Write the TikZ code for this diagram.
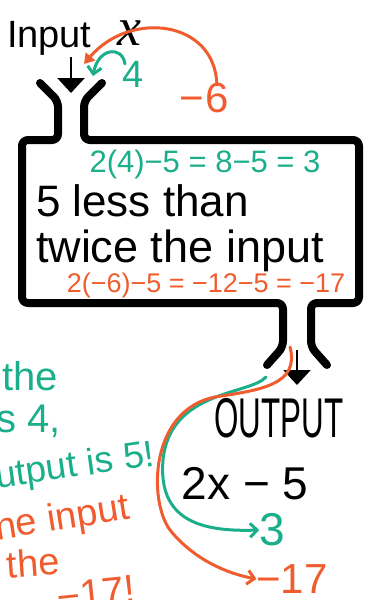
\documentclass[tikz,border=0pt]{standalone}
\usepackage{fontspec}
\setmainfont{Liberation Sans}
\newfontfamily\varfont{Liberation Serif}
\usetikzlibrary{arrows.meta, positioning, calc}
\definecolor{MarkTeal}{RGB}{27, 174, 138}
\definecolor{MarkOrange}{RGB}{240, 92, 46}
\newcommand{\fsz}[1]{\fontsize{#1}{#1}\selectfont}

\begin{document}
\begin{tikzpicture}[
  x=1pt, y=-1pt,
  every node/.style={inner sep=0pt, outer sep=0pt},
  blackink/.style={text=black},
  tealink/.style={text=MarkTeal},
  orangeink/.style={text=MarkOrange},
  machine/.style={draw=black, line width=8pt, rounded corners=6pt,
                  line cap=round, line join=round},
  feedarr/.style={-{Triangle[length=15pt, width=27pt]}, line width=2.5pt, draw=black},
  tealarr/.style={-{Straight Barb[length=7pt, width=14pt]}, line width=3pt,
                  draw=MarkTeal, line cap=round},
  orangearr/.style={-{Straight Barb[length=7pt, width=14pt]}, line width=3pt,
                    draw=MarkOrange, line cap=round}
]
  \useasboundingbox (0,0) rectangle (367,600);
  \clip (0,0) rectangle (367,600);

  %% Function machine
  \draw[machine] (40,83) -- (58,101) -- (58,140) -- (22,140) -- (22,303)
                 -- (283,303) -- (283,347) -- (267,365);
  \draw[machine] (102,83) -- (84,101) -- (84,140) -- (359,140) -- (359,303)
                 -- (311,303) -- (311,347) -- (327,365);

  %% Ports
  \coordinate (infeed)  at (71,57);
  \coordinate (inmouth) at (71,93);
  \coordinate (outfeed) at (297,350);
  \coordinate (outmouth) at (297,385);
  \coordinate (inport)  at (84,64);
  \coordinate (intip)   at (93,76);

  \draw[feedarr] (infeed) -- (inmouth);
  \draw[feedarr] (outfeed) -- (outmouth);

  %% Input side
  \node[blackink, anchor=base west, font=\fsz{38}] (inlbl) at (7,47) {Input};
  \node[blackink, anchor=base west, font=\fsz{54}\varfont\itshape] (invar) at (117,45) {x};
  \node[tealink, anchor=base west, font=\fsz{38}] (infour) at (122,87) {4};
  \node[orangeink, anchor=base west, font=\fsz{42}] (insix) at (179,112) {−\hspace{2pt}6};

  %% Rule inside the machine
  \node[tealink, font=\fsz{31}] (eqfour) at (205,164) {2(4)−5 = 8−5 = 3};
  \node[blackink, anchor=base west, font=\fsz{44}] (ruleone) at (36,216) {5 less than};
  \node[blackink, anchor=base west, font=\fsz{45}] (ruletwo) at (36,262) {twice the input};
  \node[orangeink, font=\fsz{27}] (eqsix) at (206,286) {2(−6)−5 = −12−5 = −17};

  %% Output side
  \node[blackink, font=\fsz{56}] (outlbl) at (279,418) {\scalebox{0.56}[1]{OUTPUT}};
  \node[blackink, font=\fsz{46}] (outrule) at (245,484) {2x − 5};
  \node[tealink, font=\fsz{46}] (outthree) at (272,530) {3};
  \node[orangeink, font=\fsz{42}] (outseventeen) at (292,579) {−17};

  %% Notes at the left edge
  \node[tealink, anchor=base west, font=\fsz{40}] (noteone) at (2,390) {the};
  \node[tealink, anchor=base west, font=\fsz{40}] (notetwo) at (-4,432) {s 4,};
  \node[tealink, anchor=base west, font=\fsz{37}, rotate=8] (notethree) at (-3,488) {utput is 5!};
  \node[orangeink, anchor=base west, font=\fsz{38}, rotate=9] (notefour) at (-3,540) {he input};
  \node[orangeink, anchor=base west, font=\fsz{38}, rotate=4] (notefive) at (8,578) {the};
  \node[orangeink, anchor=base west, font=\fsz{40}, rotate=6] (notesix) at (58,611) {−17!};

  %% Input arrows
  \draw[-{Triangle[length=10pt, width=12pt]}, line width=3pt, draw=MarkOrange,
        line cap=round] ($(insix.north east)+(-12,2)$)
        .. controls (215,20) and (130,10) .. (inport);
  \draw[tealarr] ($(infour.north west)+(3,3)$)
        .. controls (122,45) and (98,48) .. (intip);

  %% Output arrows
  \draw[tealarr] (266,377) .. controls (250,395) and (170,390) .. (163,460)
        .. controls (158,520) and (200,532) .. (outthree.west);
  \draw[orangearr] (290,347) .. controls (300,385) and (260,390) .. (215,397)
        .. controls (150,410) and (148,500) .. (170,530)
        .. controls (190,555) and (220,572) .. (outseventeen.west);
\end{tikzpicture}
\end{document}
